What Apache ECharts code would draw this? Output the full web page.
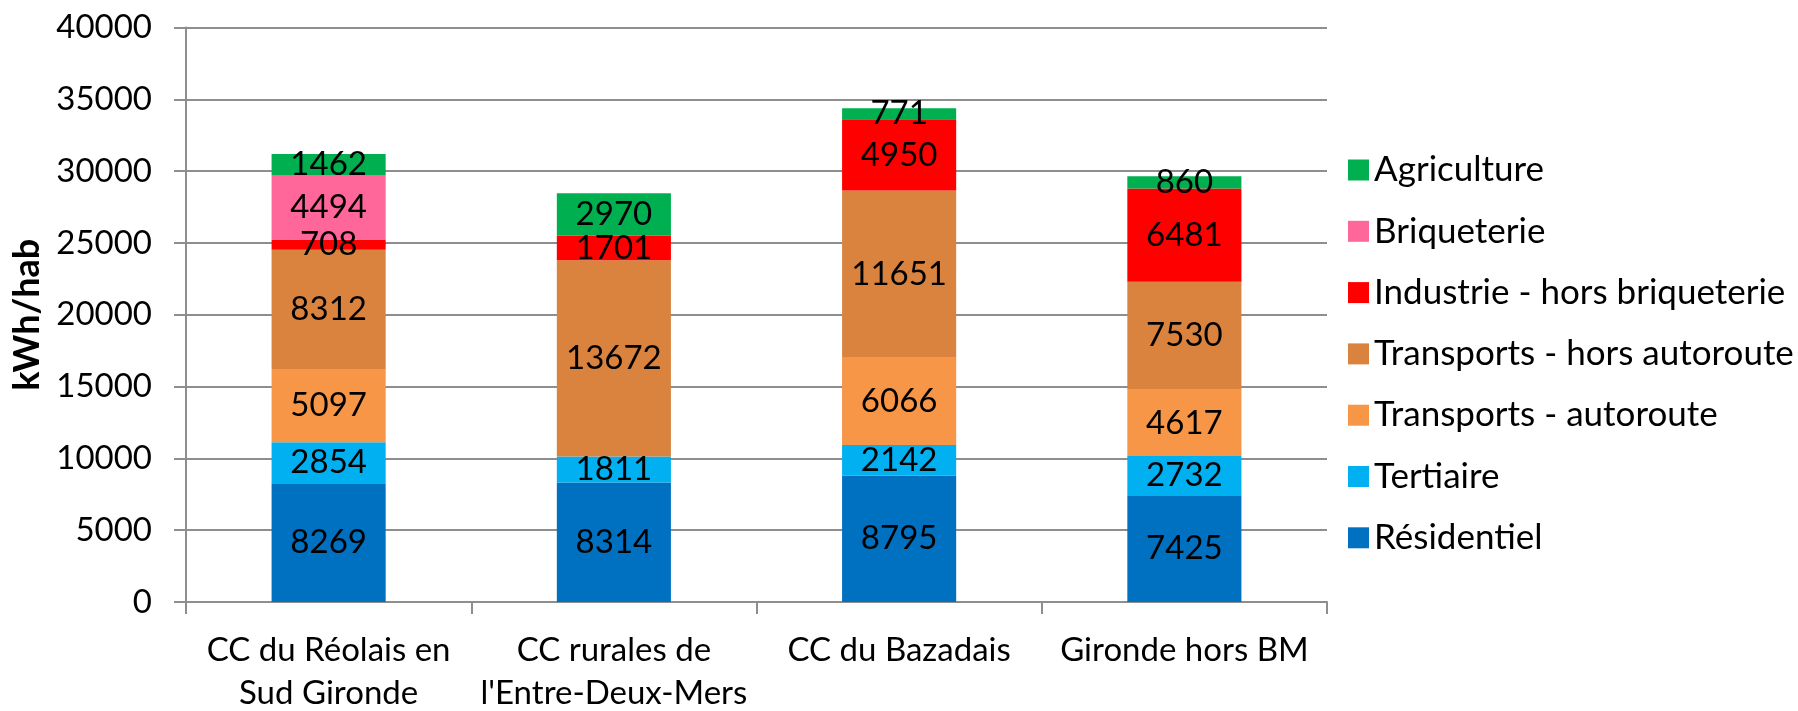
<!DOCTYPE html>
<html>
<head>
<meta charset="utf-8">
<title>kWh/hab</title>
<script src="https://cdn.jsdelivr.net/npm/echarts@6/dist/echarts.min.js"></script>
<style>
    html, body { margin: 0; padding: 0; background: #fff; }
    #main { width: 1798px; height: 711px; }
</style>
</head>
<body>
<div id="main"></div>
<script>
// categories et valeurs
var categories = ['CC du Réolais en\nSud Gironde', 'CC rurales de\nl\'Entre-Deux-Mers', 'CC du Bazadais', 'Gironde hors BM'];
var yTicks = [0, 5000, 10000, 15000, 20000, 25000, 30000, 35000, 40000];

var residentiel = [8269, 8314, 8795, 7425];
var tertiaire = [2854, 1811, 2142, 2732];
var transportsAutoroute = [5097, null, 6066, 4617];
var transportsHorsAutoroute = [8312, 13672, 11651, 7530];
var industrie = [708, 1701, 4950, 6481];
var briqueterie = [4494, null, null, null];
var agriculture = [1462, 2970, 771, 860];

var seriesNames = ['Résidentiel', 'Tertiaire', 'Transports - autoroute', 'Transports - hors autoroute',
    'Industrie - hors briqueterie', 'Briqueterie', 'Agriculture'];
var seriesData = [residentiel, tertiaire, transportsAutoroute, transportsHorsAutoroute, industrie, briqueterie, agriculture];
var colors = ['#0070C0', '#00B0F0', '#F79646', '#DA833E', '#FF0000', '#FF6699', '#00B050'];

var font = 'Lato, "Open Sans", sans-serif';

function buildSeries(){
    var list = [];
    for (var i = 0; i < seriesNames.length; i++) {
        list.push({
            name: seriesNames[i],
            type: 'bar',
            stack: 'total',
            barWidth: '40%',
            data: seriesData[i],
            itemStyle: { color: colors[i] },
            label: {
                show: true,
                position: 'inside',
                color: '#000',
                fontFamily: font,
                fontSize: 33
            }
        });
    }
    return list;
}

var chart = echarts.init(document.getElementById('main'));
var option = {
    color: colors,
    animation: false,
    grid: {
        left: 186,
        right: 471,
        top: 27.5,
        bottom: 109,
        containLabel: false,
        outerBoundsMode: 'none'
    },
    legend: {
        orient: 'vertical',
        left: 1343,
        top: 147,
        icon: 'rect',
        itemWidth: 21,
        itemHeight: 21,
        itemGap: 25.3,
        data: seriesNames.slice().reverse(),
        textStyle: {
            color: '#000',
            fontFamily: font,
            fontSize: 35,
            lineHeight: 36
        }
    },
    xAxis: {
        type: 'category',
        data: categories,
        axisLine: { lineStyle: { color: '#8E8E8E', width: 2 } },
        axisTick: { show: true, length: 12, lineStyle: { color: '#8E8E8E', width: 2 } },
        axisLabel: {
            color: '#000',
            fontFamily: font,
            fontSize: 33,
            lineHeight: 43,
            margin: 27,
            interval: 0
        }
    },
    yAxis: {
        type: 'value',
        min: yTicks[0],
        max: yTicks[yTicks.length - 1],
        interval: yTicks[1] - yTicks[0],
        name: 'kWh/hab',
        nameLocation: 'middle',
        nameGap: 110,
        nameTextStyle: {
            color: '#000',
            fontFamily: font,
            fontSize: 36,
            fontWeight: 'bold'
        },
        axisLine: { show: true, lineStyle: { color: '#8E8E8E', width: 2 } },
        axisTick: { show: true, length: 12, lineStyle: { color: '#8E8E8E', width: 2 } },
        splitLine: { lineStyle: { color: '#8E8E8E', width: 2 } },
        axisLabel: {
            color: '#000',
            fontFamily: font,
            fontSize: 33,
            margin: 34,
            formatter: function (v) { return String(v); }
        }
    },
    series: buildSeries()
};

chart.setOption(option);
</script>
</body>
</html>
